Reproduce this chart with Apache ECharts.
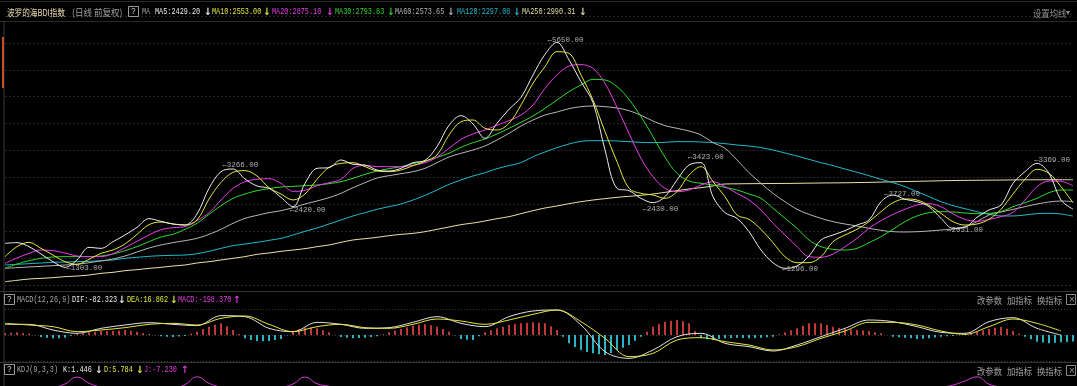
<!DOCTYPE html>
<html><head><meta charset="utf-8">
<script src="https://cdn.jsdelivr.net/npm/echarts@6/dist/echarts.min.js"></script>
<style>html,body{margin:0;padding:0;background:#000;overflow:hidden}#c{width:1077px;height:386px}</style>
</head><body><div id="c"></div>
<script>
// sample index (time axis, one sample every ~12px of the original chart)
const samples = Array.from({length: 90}, (_, i) => i);

const ma5 = [1779,1792,1716,1576,1430,1322,1462,1703,1684,1811,1938,2084,2249,2198,2147,2128,2338,2826,3144,3194,3004,2871,2826,2655,2477,2921,3207,3220,3366,3283,
 3270,3175,3156,3207,3315,3359,3620,4026,4210,4051,3778,4064,4330,4559,4984,5377,5606,5270,4857,4457,3556,2826,2782,2636,2553,2668,2985,3271,3315,2668,
 2363,2255,2001,1652,1411,1303,1348,1538,1843,1938,2020,2128,2223,2572,2699,2617,2572,2477,2255,2065,2084,2274,2414,2509,2921,3144,3302,3112,2604,2429];
const ma10 = [1525,1716,1798,1684,1557,1430,1380,1475,1589,1653,1767,1950,2135,2185,2147,2128,2223,2623,2940,3131,3163,3061,2839,2718,2605,2718,2998,3226,3302,3315,
 3239,3156,3144,3175,3258,3340,3461,3842,4095,4127,3969,3937,4064,4413,4825,5143,5428,5396,4984,4508,3905,3334,2826,2731,2699,2636,2763,3080,3239,2953,
 2668,2319,2236,2046,1792,1525,1411,1411,1525,1811,1938,2046,2192,2382,2553,2623,2604,2503,2350,2192,2128,2147,2236,2427,2718,2998,3188,3112,2858,2553];
const ma20 = [1398,1500,1589,1652,1640,1595,1538,1526,1526,1582,1697,1817,1938,2039,2077,2097,2211,2363,2604,2826,2953,2998,3010,2922,2769,2788,2877,2934,2998,3207,
 3264,3239,3239,3239,3264,3315,3417,3588,3759,3861,3937,4026,4115,4223,4413,4730,4984,5155,5181,5111,4825,4368,3873,3397,3048,2826,2763,2794,2890,2953,
 2858,2731,2604,2414,2160,1938,1716,1525,1513,1576,1716,1874,2065,2211,2331,2427,2509,2534,2477,2338,2236,2198,2236,2287,2369,2604,2858,2966,2960,2875];
const ma30 = [1303,1386,1449,1494,1519,1526,1526,1526,1538,1576,1640,1716,1811,1900,1950,2046,2160,2331,2496,2636,2718,2782,2820,2852,2864,2877,2890,2915,2953,3017,
 3093,3156,3201,3239,3296,3347,3417,3493,3607,3696,3766,3861,3969,4083,4203,4349,4508,4667,4794,4901,4889,4762,4521,4191,3810,3417,3112,2966,2922,2890,
 2845,2795,2718,2636,2446,2255,2065,1843,1716,1665,1652,1684,1792,1906,2046,2192,2300,2363,2382,2376,2357,2344,2350,2382,2477,2553,2636,2744,2795,2794];
const ma60 = [1303,1316,1329,1341,1354,1367,1380,1411,1443,1481,1538,1614,1690,1748,1792,1830,1874,1950,2046,2160,2255,2312,2363,2401,2458,2528,2585,2649,2731,2839,
 2934,3023,3067,3105,3144,3207,3315,3423,3493,3556,3632,3747,3873,4013,4127,4222,4279,4343,4381,4394,4381,4356,4305,4216,4108,4019,3969,3918,3842,3696,
 3588,3366,3124,2921,2731,2572,2426,2331,2255,2192,2147,2109,2065,2027,2001,1995,2001,2014,2033,2052,2097,2192,2319,2376,2426,2477,2528,2566,2585,2574];
const ma120 = [1367,1380,1392,1405,1418,1424,1430,1437,1449,1462,1494,1513,1532,1544,1551,1557,1582,1627,1684,1735,1767,1798,1836,1874,1938,2008,2071,2147,2223,2300,
 2363,2427,2477,2528,2604,2693,2794,2902,2985,3061,3124,3201,3258,3315,3429,3518,3601,3670,3721,3734,3734,3727,3715,3702,3696,3702,3715,3715,3708,3696,
 3677,3651,3632,3601,3556,3499,3442,3378,3315,3258,3194,3131,3067,2998,2934,2858,2763,2668,2572,2496,2439,2382,2331,2300,2300,2319,2344,2350,2338,2297];
const ma250 = [1049,1075,1100,1113,1126,1145,1157,1176,1208,1227,1259,1278,1303,1322,1348,1367,1405,1430,1462,1494,1526,1570,1595,1627,1652,1678,1716,1748,1798,1843,
 1868,1893,1925,1950,1969,2001,2046,2090,2135,2166,2205,2249,2287,2344,2401,2452,2490,2534,2572,2604,2630,2655,2674,2693,2718,2750,2782,2814,2839,2871,
 2909,2912,2915,2916,2918,2920,2922,2925,2928,2930,2932,2936,2940,2945,2950,2955,2960,2965,2970,2975,2978,2980,2982,2984,2986,2988,2989,2990,2990,2990];

// marked highs / lows: [sample position, value]
const extremes = [[5.1,1303],[18.1,3266],[23.7,2420],[45.2,5650],[53.1,2430],[56.9,3423],[64.75,1296],[73.25,2727],[78.5,2031],[85.75,3369]];

// MACD lines (sampled every second sample)
const macdIdx = [0,2,4,6,8,10,12,14,16,18,20,22,24,26,28,30,32,34,36,38,40,42,44,46,48,50,52,54,56,58,60,62,64,66,68,70,72,74,76,78,80,82,84,86,88];
const dif = [320,320,150,50,200,300,370,320,280,580,550,200,100,380,320,200,220,380,550,350,250,550,720,750,300,-500,-700,-450,-50,50,-250,-350,-480,-300,-50,200,450,400,250,80,50,400,520,200,0];
const dea = [350,300,250,100,150,220,320,350,300,500,570,320,100,250,320,220,200,320,480,420,320,450,620,750,400,-100,-650,-550,-150,-80,-200,-300,-450,-350,-100,120,380,380,300,120,20,250,480,350,120];
// MACD histogram, one bar every half sample
const hist = [60,70,80,60,40,-10,-60,-85,-100,-95,-80,-20,40,60,80,100,120,120,120,135,150,130,100,60,30,-10,-40,-50,-60,-45,
 -30,40,100,180,250,310,350,260,150,30,-100,-150,-180,-185,-180,-150,-120,-10,100,170,220,215,200,140,80,10,-60,-85,-100,-90,
 -80,-60,-40,20,80,130,180,230,280,305,320,290,250,180,100,-10,-120,-140,-150,-40,80,140,200,250,300,330,350,370,380,370,
 350,260,150,-50,-250,-360,-450,-510,-550,-580,-600,-540,-450,-380,-300,-170,-50,100,250,330,400,430,450,410,350,120,-100,-130,-150,-120,
 -100,-90,-80,-90,-100,-90,-80,-65,-50,20,80,140,200,280,350,355,350,300,250,210,180,165,150,135,120,85,50,0,-50,-65,
 -80,-100,-120,-110,-100,-75,-50,-40,-30,10,50,75,100,140,180,215,250,190,120,35,-50,-125,-200,-225,-250,-235,-220,-210,-198];
// KDJ J line (only its peaks reach into the visible strip)
const kdjJ = [40,45,50,55,60,75,105,78,60,45,35,30,35,45,55,72,106,78,60,45,40,45,55,60,75,105,76,65,50,45,
 40,45,50,55,60,55,50,45,50,55,60,55,50,45,50,55,60,50,40,30,20,25,35,45,55,60,55,45,40,35,
 30,25,20,25,35,45,55,60,55,50,45,50,55,60,55,50,45,50,60,70,88,106,74,60,45,35,25,15,5,-7.23];

const C = {ma5:'#ececec', ma10:'#e6e63c', ma20:'#e83ce8', ma30:'#2ed82e', ma60:'#b4b4b4', ma120:'#20b8cc', ma250:'#e8dfa6'};

const chart = echarts.init(document.getElementById('c'));
const lineS = (arr, color, xi, yi) => ({type:'line', data: arr.map((v,i)=>[i,v]), xAxisIndex:xi, yAxisIndex:yi,
  symbol:'none', smooth:0.35, lineStyle:{width:1,color}, silent:true, animation:false, z:3});

const hdr = [];
const mono = '"Liberation Mono", monospace';
const cjk = '"Noto Sans CJK SC", sans-serif';
function t(x, y, text, color, opts) {
  opts = opts || {};
  hdr.push({type:'text', x, y, scaleX: opts.sx || 0.76, silent:true, z:100,
    style:{x:0,y:0,text, fill:color, font: (opts.w||'normal') + ' ' + (opts.size||9)+'px ' + (opts.font||mono), verticalAlign:'middle'}});
}
function arrow(x, y, ch, color) { t(x, y, ch, color, {font:'"DejaVu Sans"', size:10, sx:0.9, w:'bold'}); }
function box(x, y, txt) {
  hdr.push({type:'rect', shape:{x:x+0.5, y:y-5.5, width:10, height:10}, style:{fill:'none', stroke:'#9a9a9a', lineWidth:1}, silent:true, z:100});
  t(x+3, y, txt, '#c8c8c8', {sx:0.9});
}
// top header
t(7, 12, '波罗的海BDI指数', '#eadcae', {font:cjk, size:9.5, sx:0.8});
t(72, 12, '(日线 前复权)', '#a0a0a0', {font:cjk, size:9.5, sx:0.9});
box(128, 12, '?');
t(142, 12, 'MA', '#a0a0a0');
const maHdr = [['MA5:2429.20',155,C.ma5],['MA10:2553.00',212,C.ma10],['MA20:2875.10',272,C.ma20],['MA30:2793.83',335,C.ma30],
  ['MA60:2573.65',395,C.ma60],['MA120:2297.08',457,C.ma120],['MA250:2990.31',522,C.ma250]];
const arrowX = [204,263,326,387,447,513,579];
maHdr.forEach((m,k)=>{ t(m[1],12,m[0],m[2]); arrow(arrowX[k],12,'↓',m[2]); });
t(1033, 13, '设置均线', '#8c8c8c', {font:cjk, size:9.5, sx:0.88});
t(1066, 13, '▾', '#8c8c8c', {font:'"DejaVu Sans"', size:8, sx:1});
// MACD header
box(4, 300, '?');
t(17, 300, 'MACD(12,26,9)', '#a8a8a8');
t(72, 300, 'DIF:-82.323', '#ececec'); arrow(118, 300, '↓', '#ececec');
t(127, 300, 'DEA:16.862', '#e6e63c'); arrow(170, 300, '↓', '#e6e63c');
t(178, 300, 'MACD:-198.370', '#e83ce8'); arrow(233, 300, '↑', '#e83ce8');
// KDJ header
box(4, 370, '?');
t(17, 370, 'KDJ(9,3,3)', '#a8a8a8');
t(63, 370, 'K:1.446', '#ececec'); arrow(95, 370, '↓', '#ececec');
t(104, 370, 'D:5.784', '#e6e63c'); arrow(136, 370, '↓', '#e6e63c');
t(144, 370, 'J:-7.230', '#e83ce8'); arrow(181, 370, '↑', '#e83ce8');
[300, 371].forEach(y=>{
  t(977, y, '改参数', '#a0a0a0', {font:cjk,size:9.5,sx:0.88});
  t(1007, y, '加指标', '#a0a0a0', {font:cjk,size:9.5,sx:0.88});
  t(1037, y, '换指标', '#a0a0a0', {font:cjk,size:9.5,sx:0.88});
  hdr.push({type:'rect', shape:{x:1066.5, y:y-5.5, width:9, height:10}, style:{fill:'none', stroke:'#8a8a8a'}, silent:true, z:100});
  t(1068.5, y, '×', '#a0a0a0', {font:'"DejaVu Sans"',size:8,sx:1});
});
// separators / frame
const lines = [[0,1,1077,1,'#2a2a2a'],[0,21,1077,21,'#2a2a2a'],[0,291,1077,291,'#333'],[0,362,1077,362,'#333'],[4,21,4,386,'#3a3a3a']];
lines.forEach(l=>hdr.push({type:'line', shape:{x1:l[0],y1:l[1]+0.5,x2:l[2],y2:l[3]+0.5}, style:{stroke:l[4],lineWidth:1}, silent:true, z:90}));
hdr.push({type:'rect', shape:{x:2, y:37, width:2, height:51}, style:{fill:'#c8501e'}, silent:true, z:91});

const option = {
  backgroundColor:'#000',
  animation:false,
  graphic: hdr,
  grid:[
    {left:5, right:4, top:16, height:269},
    {left:5, right:4, top:309, height:52},
    {left:5, right:4, top:376, height:100}
  ],
  xAxis:[
    {type:'value', gridIndex:0, min:0, max:89, show:false},
    {type:'value', gridIndex:1, min:0, max:89, show:false},
    {type:'value', gridIndex:2, min:0, max:89, show:false}
  ],
  yAxis:[
    {type:'value', gridIndex:0, min:986, max:6107, show:false, splitLine:{show:false}},
    {type:'value', gridIndex:0, min:0, max:10, interval:1, axisLabel:{show:false}, axisLine:{show:false}, axisTick:{show:false},
      splitLine:{show:true, lineStyle:{color:'#282828', type:[2,2], width:1}}},
    {type:'value', gridIndex:1, min:-780, max:780, interval:780, axisLabel:{show:false}, axisLine:{show:false}, axisTick:{show:false},
      splitLine:{show:true, lineStyle:{color:'#3a3a3a', type:[1,2], width:1}}},
    {type:'value', gridIndex:2, min:0, max:110, show:false}
  ],
  series:[
    lineS(ma250, C.ma250, 0, 0),
    lineS(ma120, C.ma120, 0, 0),
    lineS(ma60, C.ma60, 0, 0),
    lineS(ma30, C.ma30, 0, 0),
    lineS(ma20, C.ma20, 0, 0),
    lineS(ma10, C.ma10, 0, 0),
    lineS(ma5, C.ma5, 0, 0),
    {type:'scatter', xAxisIndex:0, yAxisIndex:0, data: extremes, symbolSize:0, silent:true, z:10,
      label:{show:true, position:'right', distance:0, color:'#d8d8d8', fontSize:7.5, fontFamily:mono,
        formatter: p => '←' + p.value[1].toFixed(2)}},
    {type:'bar', xAxisIndex:1, yAxisIndex:2, barWidth:2, silent:true, z:2,
      data: hist.map((v,j)=>({value:[j/2,v], itemStyle:{color: v>=0 ? '#c03838' : '#2ab4c2'}}))},
    {type:'line', xAxisIndex:1, yAxisIndex:2, data: macdIdx.map((x,k)=>[x,dif[k]]), symbol:'none', smooth:0.35, lineStyle:{width:1,color:'#e0e0e0'}, z:4},
    {type:'line', xAxisIndex:1, yAxisIndex:2, data: macdIdx.map((x,k)=>[x,dea[k]]), symbol:'none', smooth:0.35, lineStyle:{width:1,color:'#e6e63c'}, z:4},
    {type:'line', xAxisIndex:2, yAxisIndex:3, data: kdjJ.map((v,i)=>[i,v]), symbol:'none', smooth:0.5, lineStyle:{width:1,color:'#d83cd8'}, silent:true, z:3}
  ]
};
chart.setOption(option);
</script></body></html>
